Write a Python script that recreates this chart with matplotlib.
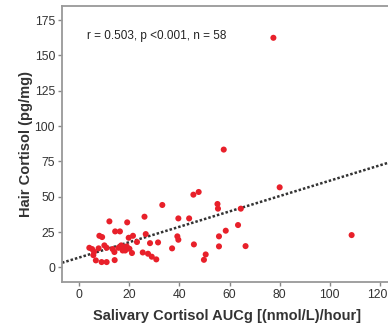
import matplotlib
matplotlib.use("Agg")
import matplotlib.pyplot as plt
import matplotlib.transforms as mtransforms

# Data
salivary_aucg = [77.5, 57.7, 80.0, 108.7, 45.6, 47.7, 33.2, 55.2, 55.4, 64.5,
                 39.6, 43.9, 26.1, 12.1, 19.2, 14.4, 16.3, 26.6, 58.5, 63.4,
                 39.2, 39.6, 55.8, 8.1, 9.2, 19.8, 21.5, 23.1, 28.3, 31.5,
                 45.8, 55.8, 66.4, 37.1, 4.1, 5.2, 7.8, 10.1, 11.0, 13.4,
                 15.7, 16.8, 17.9, 19.0, 20.1, 17.4, 18.4, 14.1, 6.0, 21.1,
                 25.4, 27.5, 29.0, 30.8, 50.5, 49.8, 6.7, 14.2, 9.0, 11.0, 5.7]
hair_cortisol = [162.5, 83.4, 56.7, 22.9, 51.5, 53.4, 44.2, 44.9, 41.6, 41.6,
                 34.7, 34.7, 35.9, 32.6, 31.9, 25.5, 25.5, 23.6, 26.0, 30.0,
                 22.0, 19.6, 22.0, 22.4, 21.5, 21.0, 22.4, 18.0, 17.2, 17.7,
                 16.3, 14.9, 15.1, 13.5, 13.9, 13.0, 13.5, 15.6, 13.9, 13.0,
                 13.9, 15.6, 13.9, 14.9, 13.2, 12.0, 12.0, 10.9, 11.1, 10.2,
                 10.6, 9.7, 7.6, 5.7, 9.2, 5.4, 5.0, 5.2, 3.8, 3.8, 8.7]
fit_intercept = 7.0
fit_slope = 0.544
annotation = "r = 0.503, p <0.001, n = 58"
x_ticks = [0, 20, 40, 60, 80, 100, 120]
y_ticks = [0, 25, 50, 75, 100, 125, 150, 175]

plt.rcParams['font.family'] = ['Liberation Sans', 'DejaVu Sans']

fig = plt.figure(figsize=(3.88, 3.29), dpi=100)
ax = fig.add_axes([62/388, 47/329, 330.5/388, 276/329])
xmin, xmax = -6.8, 125
ax.set_xlim(xmin, xmax)
ax.set_ylim(-10.3, 185)

ax.plot([xmin, xmax], [fit_intercept + fit_slope*xmin, fit_intercept + fit_slope*xmax],
        color='#333333', linestyle=(0, (1, 0.8)), linewidth=1.8, zorder=2)
ax.scatter(salivary_aucg, hair_cortisol, s=19, color='#e8202a', edgecolors='none', zorder=3)

ax.text(3, 164, annotation, fontsize=8.5, color='#222222', va='center', ha='left')

ax.set_xticks(x_ticks)
ax.set_yticks(y_ticks)
ax.tick_params(axis='both', labelsize=8.8, labelcolor='#333333', color='#888888',
               length=3, width=1, direction='out', pad=2)
fig.canvas.draw()
for lbl in ax.get_xticklabels():
    if lbl.get_text() == '120':
        lbl.set_transform(lbl.get_transform() +
                          mtransforms.ScaledTranslation(-3/100, 0, fig.dpi_scale_trans))
for s in ['left', 'bottom', 'top']:
    ax.spines[s].set_color('#999999')
    ax.spines[s].set_linewidth(1.3)
ax.spines['right'].set_visible(False)

ax.set_xlabel("Salivary Cortisol AUCg [(nmol/L)/hour]", fontsize=10.5, fontweight='bold',
              color='#333333', labelpad=6)
ax.set_ylabel("Hair Cortisol (pg/mg)", fontsize=10.5, fontweight='bold',
              color='#333333', labelpad=1)

fig.savefig("out.png", dpi=100)
